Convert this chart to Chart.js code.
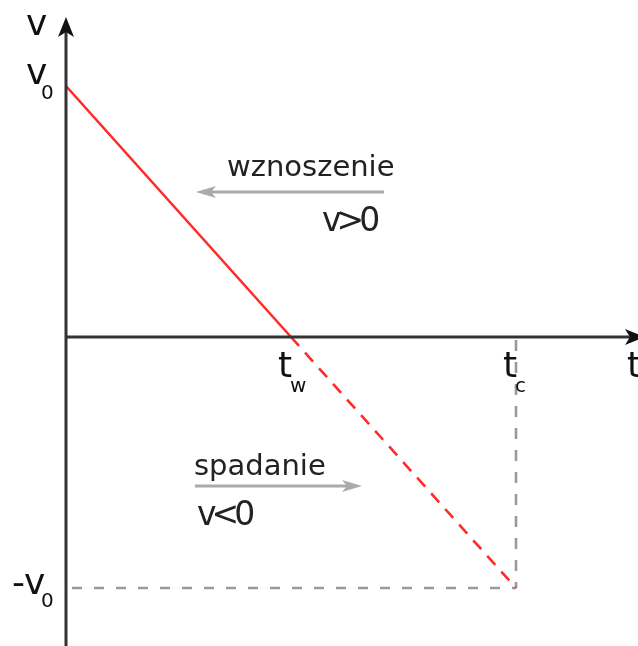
<!DOCTYPE html>
<html>
<head>
<meta charset="utf-8">
<script src="https://cdn.jsdelivr.net/npm/chart.js@4.4.1/dist/chart.umd.min.js"></script>
<style>
  html, body { margin: 0; padding: 0; background: #fff; }
  canvas { display: block; }
</style>
</head>
<body>
<canvas id="vtChart" width="638" height="646"></canvas>
<script>
// t: 0, t_w (top of flight), t_c (total time)
const timeMarks = [0, 1, 2];
// v: v0, 0, -v0
const velocity = [1, 0, -1];
const timeLabels = [["t", "w"], ["t", "c"]];
const velocityLabels = [["v", "0"], ["-v", "0"]];
const axisNames = ["t", "v"];
const phaseLabels = ["wznoszenie", "v>0", "spadanie", "v<0"];

const FONT = '"DejaVu Sans", sans-serif';
const AXIS_COLOR = "#333";
const RED = "#ff2a2a";
const GREY = "#999";

const pt = i => ({ x: timeMarks[i], y: velocity[i] });

function arrowHead(ctx, tipX, tipY, dx, dy, len, half, color) {
  // dx,dy: unit direction of the arrow
  const bx = tipX - dx * len, by = tipY - dy * len;
  ctx.save();
  ctx.fillStyle = color;
  ctx.beginPath();
  ctx.moveTo(tipX, tipY);
  ctx.lineTo(bx - dy * half, by + dx * half);
  ctx.lineTo(tipX - dx * len * 0.75, tipY - dy * len * 0.75);
  ctx.lineTo(bx + dy * half, by - dx * half);
  ctx.closePath();
  ctx.fill();
  ctx.restore();
}

function subLabel(ctx, main, sub, x, y, subX, subY) {
  ctx.font = "36px " + FONT;
  ctx.fillText(main, x, y);
  ctx.font = "20px " + FONT;
  ctx.fillText(sub, subX, subY);
}

const diagramPlugin = {
  id: "diagram",
  afterDatasetsDraw(chart) {
    const ctx = chart.ctx;
    const xs = chart.scales.x, ys = chart.scales.y;
    const x0 = xs.getPixelForValue(0);
    const y0 = ys.getPixelForValue(0);

    ctx.save();
    // axes
    ctx.strokeStyle = AXIS_COLOR;
    ctx.lineWidth = 3;
    ctx.beginPath();
    ctx.moveTo(x0, chart.height);
    ctx.lineTo(x0, 30);
    ctx.moveTo(x0, y0);
    ctx.lineTo(chart.width, y0);
    ctx.stroke();
    arrowHead(ctx, x0, 17, 0, -1, 20, 8, "#111");
    arrowHead(ctx, 645, y0, 1, 0, 20, 8, "#111");

    ctx.fillStyle = "#111";
    ctx.textBaseline = "alphabetic";
    ctx.textAlign = "left";

    // axis names
    ctx.font = "36px " + FONT;
    ctx.fillText(axisNames[1], 26, 35);
    ctx.fillText(axisNames[0], 627, 377);

    // velocity ticks
    const yv0 = ys.getPixelForValue(velocity[0]);
    const yv2 = ys.getPixelForValue(velocity[2]);
    subLabel(ctx, velocityLabels[0][0], velocityLabels[0][1], 26, yv0 - 2, 41, yv0 + 13);
    subLabel(ctx, velocityLabels[1][0], velocityLabels[1][1], 12, yv2 + 6, 41, yv2 + 19);

    // time ticks
    timeLabels.forEach((lab, i) => {
      const px = xs.getPixelForValue(timeMarks[i + 1]);
      subLabel(ctx, lab[0], lab[1], px - 13, y0 + 40, px - 1, y0 + 55);
    });

    // phase annotations
    ctx.font = "29px " + FONT;
    ctx.fillStyle = "#222";
    ctx.fillText(phaseLabels[0], 227, 176);
    ctx.fillText(phaseLabels[2], 194, 475);
    ctx.font = "33px " + FONT;
    ctx.letterSpacing = "-5px";
    ctx.fillText(phaseLabels[1], 322, 231);
    ctx.fillText(phaseLabels[3], 197, 525);
    ctx.letterSpacing = "0px";

    ctx.strokeStyle = "#aaa";
    ctx.lineWidth = 3;
    ctx.beginPath();
    ctx.moveTo(384, 192);
    ctx.lineTo(210, 192);
    ctx.moveTo(195, 486);
    ctx.lineTo(348, 486);
    ctx.stroke();
    arrowHead(ctx, 196, 192, -1, 0, 20, 6, "#aaa");
    arrowHead(ctx, 362, 486, 1, 0, 20, 6, "#aaa");
    ctx.restore();
  }
};

new Chart(document.getElementById("vtChart"), {
  type: "scatter",
  data: {
    datasets: [
      {
        // rising: v > 0
        data: [pt(0), pt(1)],
        showLine: true, borderColor: RED, borderWidth: 2.6, pointRadius: 0
      },
      {
        // falling: v < 0
        data: [pt(1), pt(2)],
        showLine: true, borderColor: RED, borderWidth: 2.6, pointRadius: 0,
        borderDash: [12, 9]
      },
      {
        data: [{ x: timeMarks[0], y: velocity[2] }, { x: timeMarks[2], y: velocity[2] }],
        showLine: true, borderColor: GREY, borderWidth: 2.6, pointRadius: 0,
        borderDash: [10, 12], borderDashOffset: -6
      },
      {
        data: [{ x: timeMarks[2], y: velocity[1] }, { x: timeMarks[2], y: velocity[2] }],
        showLine: true, borderColor: GREY, borderWidth: 2.6, pointRadius: 0,
        borderDash: [11, 11], borderDashOffset: -3
      }
    ]
  },
  plugins: [diagramPlugin],
  options: {
    responsive: false,
    animation: false,
    layout: { padding: 0 },
    plugins: { legend: { display: false }, tooltip: { enabled: false } },
    scales: {
      x: { type: "linear", display: false, min: -0.2933, max: 2.5422 },
      y: { type: "linear", display: false, min: -1.2311, max: 1.3426 }
    }
  }
});
</script>
</body>
</html>
